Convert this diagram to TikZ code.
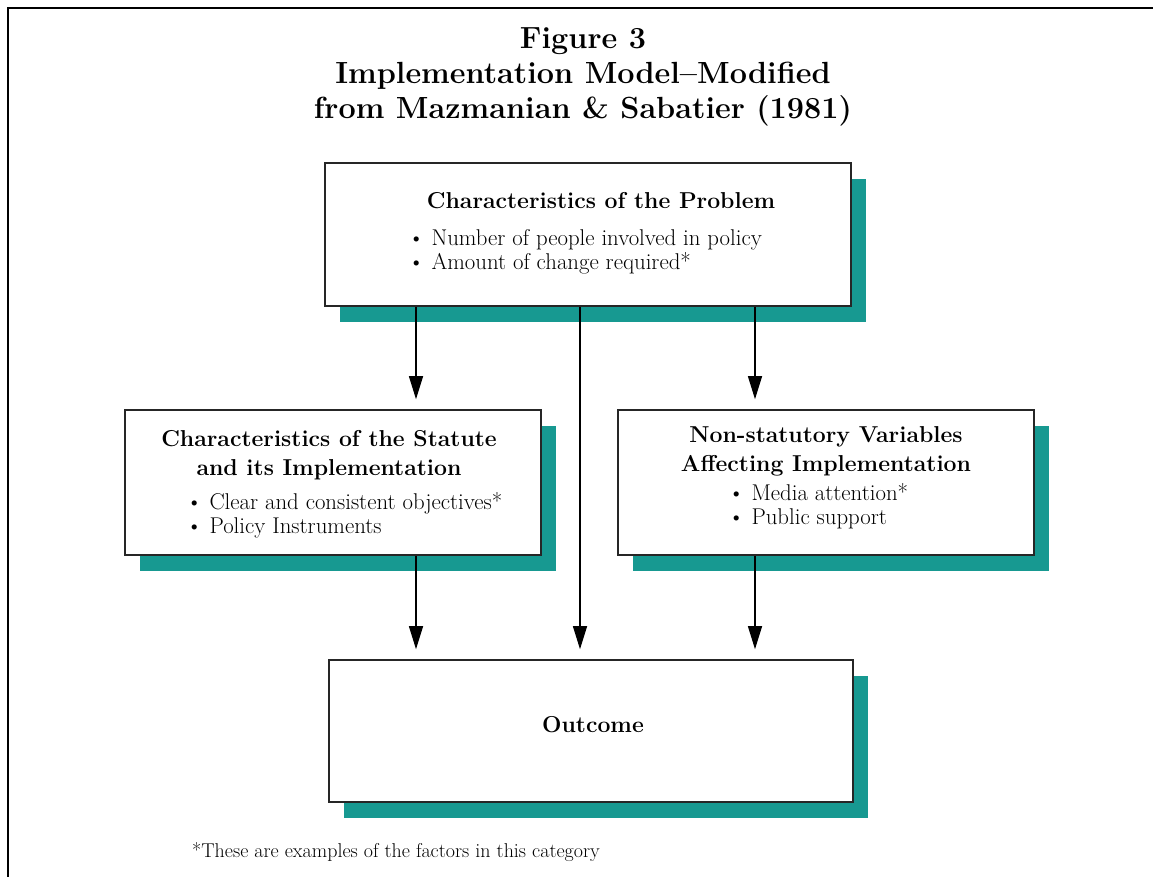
\documentclass[tikz,border=0pt]{standalone}
\usetikzlibrary{arrows.meta,shadows}
\definecolor{shadowteal}{RGB}{23,153,145}
\tikzset{
  panel/.style={draw=black!85, line width=1.6pt, fill=white, rectangle, inner sep=0pt,
    drop shadow={shadow xshift=15pt, shadow yshift=-16pt, fill=shadowteal, opacity=1}},
  head/.style={font=\fontsize{23}{29}\selectfont\bfseries, align=center, inner sep=0pt},
  items/.style={font=\fontsize{22.8}{24.5}\selectfont, align=left, inner sep=0pt},
  flow/.style={-{Triangle[length=23pt,width=14pt]}, line width=1.2pt, shorten >=10pt}
}
\begin{document}
\begin{tikzpicture}[x=1pt, y=-1pt]
  \useasboundingbox (0,0) rectangle (1153,877);
  % outer frame
  \draw[line width=2pt] (8,877) -- (8,8) -- (1153,8);

  % title
  \node[font=\fontsize{30.6}{35}\selectfont\bfseries, align=center, inner sep=0pt] (title) at (583,77)
    {Figure 3\\Implementation Model--Modified\\from Mazmanian \& Sabatier (1981)};

  % boxes
  \node[panel, minimum width=526pt, minimum height=143pt] (problem) at (588,234.5) {};
  \node[panel, minimum width=416pt, minimum height=145pt] (statute) at (333,482.5) {};
  \node[panel, minimum width=416pt, minimum height=145pt] (nonstat) at (826,482.5) {};
  \node[panel, minimum width=524pt, minimum height=142pt] (outcome) at (591,731) {};

  % box texts
  \node[head] (problemhead) at (601,201) {Characteristics of the Problem};
  \node[items, anchor=west] (problemitems) at (408,252)
    {\textbullet\ Number of people involved in policy\\\textbullet\ Amount of change required*};
  \node[head] (statutehead) at (329,455) {Characteristics of the Statute\\and its Implementation};
  \node[items, anchor=west] (statuteitems) at (186,515.5)
    {\textbullet\ Clear and consistent objectives*\\\textbullet\ Policy Instruments};
  \node[head] (nonstathead) at (826,451) {Non-statutory Variables\\Affecting Implementation};
  \node[items, anchor=west] (nonstatitems) at (728,506)
    {\textbullet\ Media attention*\\\textbullet\ Public support};
  \node[head] (outcomehead) at (593,725) {Outcome};

  % footnote
  \node[font=\fontsize{20}{22}\selectfont, anchor=west, inner sep=0pt] (note) at (192,852)
    {*These are examples of the factors in this category};

  % arrows
  \coordinate (leftx) at (416,0);
  \coordinate (midx) at (580,0);
  \coordinate (rightx) at (755,0);
  \draw[flow] (problem.south -| leftx) -- (statute.north -| leftx);
  \draw[flow] (problem.south -| rightx) -- (nonstat.north -| rightx);
  \draw[flow] (problem.south -| midx) -- (outcome.north -| midx);
  \draw[flow] (statute.south -| leftx) -- (outcome.north -| leftx);
  \draw[flow] (nonstat.south -| rightx) -- (outcome.north -| rightx);
\end{tikzpicture}
\end{document}
